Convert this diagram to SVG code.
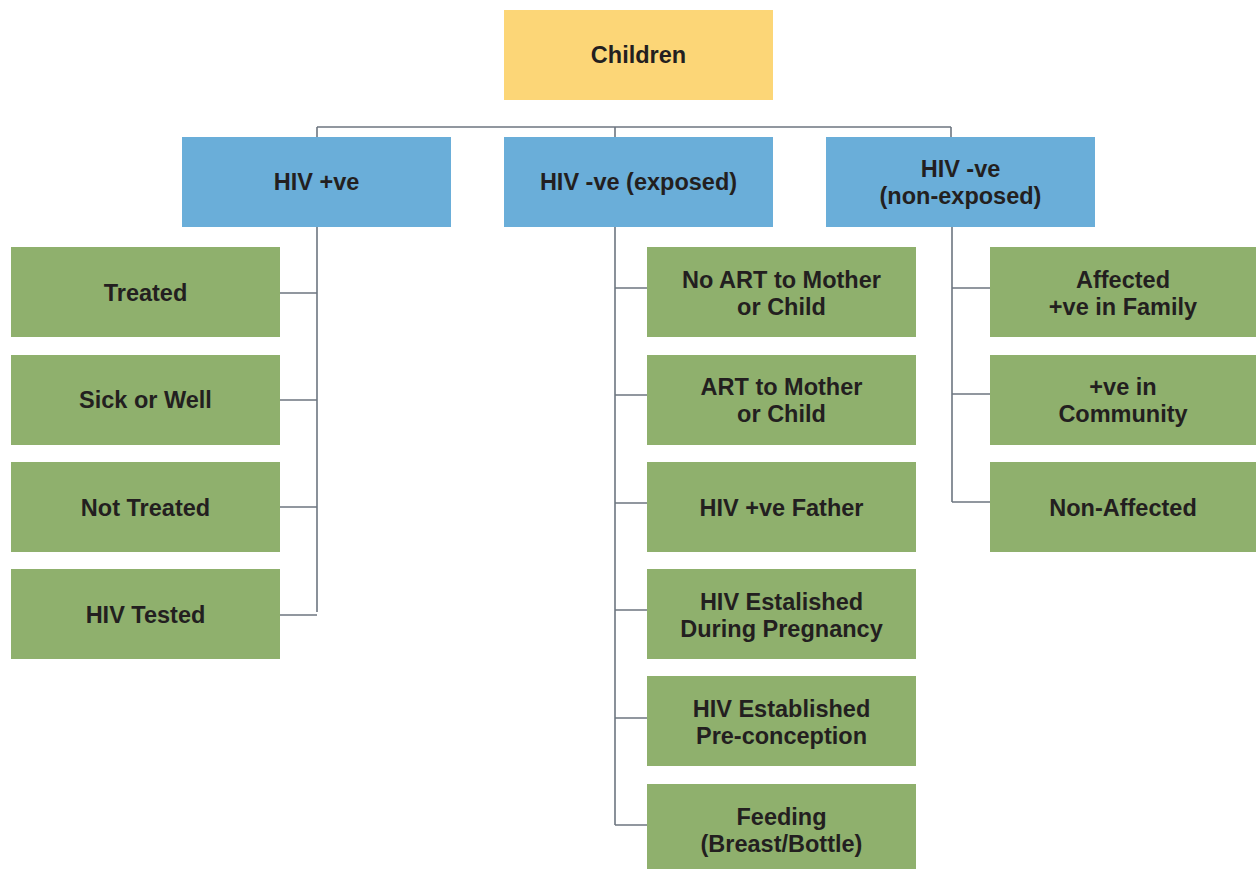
<svg xmlns="http://www.w3.org/2000/svg" width="1256" height="869" viewBox="0 0 1256 869">
<style>
.y{fill:#FCD677}
.b{fill:#6AAED9}
.g{fill:#8FB06D}
text{font-family:"Liberation Sans",Arial,sans-serif;font-weight:bold;font-size:23.5px;fill:#231F20;text-anchor:middle}
.c{stroke:#6D7680;stroke-width:1.6;fill:none}
</style>
<rect width="1256" height="869" fill="#fff"/>
<g id="connectors" class="c">
<path d="M317 127H951M317 127V137M615 127V137M951 127V137"/>
<path d="M317 227V612M280 293H317M280 400H317M280 507H317M280 615H317"/>
<path d="M615 227V825M615 288H647M615 395H647M615 503H647M615 610H647M615 718H647M615 825H647"/>
<path d="M952 227V502M952 288H990M952 394H990M952 502H990"/>
</g>
<g id="children"><rect class="y" x="504" y="10" width="269" height="90"/><text x="638.5" y="63">Children</text></g>
<g id="hivpos"><rect class="b" x="182" y="137" width="269" height="90"/><text x="316.5" y="190">HIV +ve</text></g>
<g id="hivexp"><rect class="b" x="504" y="137" width="269" height="90"/><text x="638.5" y="190">HIV -ve (exposed)</text></g>
<g id="hivnonexp"><rect class="b" x="826" y="137" width="269" height="90"/><text x="960.5" y="177">HIV -ve</text><text x="960.5" y="204">(non-exposed)</text></g>
<g id="treated"><rect class="g" x="11" y="247" width="269" height="90"/><text x="145.5" y="301">Treated</text></g>
<g id="sick"><rect class="g" x="11" y="355" width="269" height="90"/><text x="145.5" y="408">Sick or Well</text></g>
<g id="nottreated"><rect class="g" x="11" y="462" width="269" height="90"/><text x="145.5" y="516">Not Treated</text></g>
<g id="tested"><rect class="g" x="11" y="569" width="269" height="90"/><text x="145.5" y="623">HIV Tested</text></g>
<g id="noart"><rect class="g" x="647" y="247" width="269" height="90"/><text x="781.5" y="288">No ART to Mother</text><text x="781.5" y="315">or Child</text></g>
<g id="art"><rect class="g" x="647" y="355" width="269" height="90"/><text x="781.5" y="395">ART to Mother</text><text x="781.5" y="422">or Child</text></g>
<g id="father"><rect class="g" x="647" y="462" width="269" height="90"/><text x="781.5" y="516">HIV +ve Father</text></g>
<g id="pregnancy"><rect class="g" x="647" y="569" width="269" height="90"/><text x="781.5" y="610">HIV Estalished</text><text x="781.5" y="637">During Pregnancy</text></g>
<g id="preconception"><rect class="g" x="647" y="676" width="269" height="90"/><text x="781.5" y="717">HIV Established</text><text x="781.5" y="744">Pre-conception</text></g>
<g id="feeding"><rect class="g" x="647" y="784" width="269" height="85"/><text x="781.5" y="825">Feeding</text><text x="781.5" y="852">(Breast/Bottle)</text></g>
<g id="affected"><rect class="g" x="990" y="247" width="266" height="90"/><text x="1123" y="288">Affected</text><text x="1123" y="315">+ve in Family</text></g>
<g id="community"><rect class="g" x="990" y="355" width="266" height="90"/><text x="1123" y="395">+ve in</text><text x="1123" y="422">Community</text></g>
<g id="nonaffected"><rect class="g" x="990" y="462" width="266" height="90"/><text x="1123" y="516">Non-Affected</text></g>
</svg>
